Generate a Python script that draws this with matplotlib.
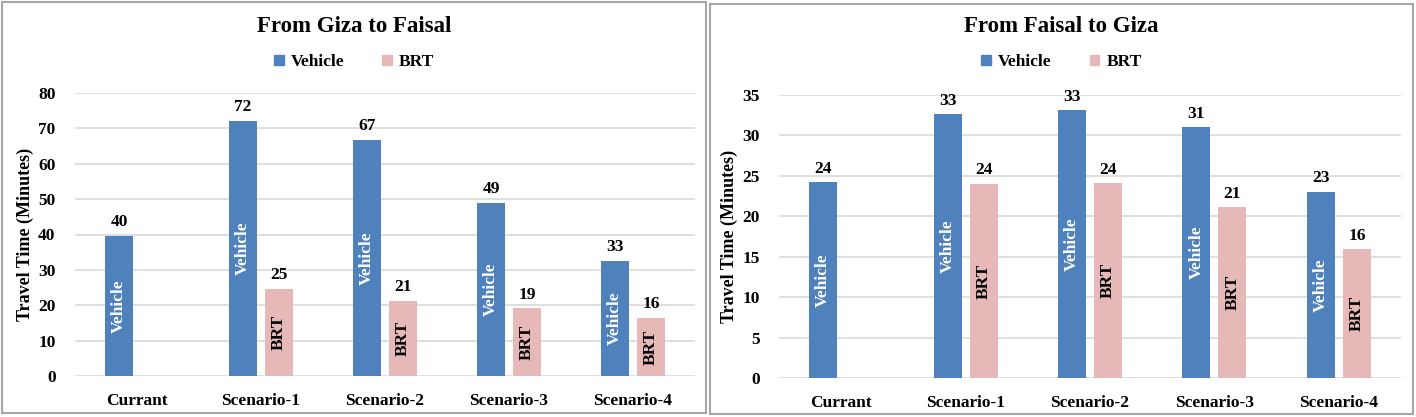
import numpy as np
import matplotlib.pyplot as plt
from matplotlib.patches import Patch, Rectangle

categories = ["Currant", "Scenario-1", "Scenario-2", "Scenario-3", "Scenario-4"]

# From Giza to Faisal
giza_vehicle = [39.6, 72.1, 66.8, 48.9, 32.6]
giza_brt = [np.nan, 24.7, 21.2, 19.1, 16.4]

# From Faisal to Giza
faisal_vehicle = [24.2, 32.6, 33.1, 31.0, 23.0]
faisal_brt = [np.nan, 24.0, 24.1, 21.1, 15.9]

blue = "#4F81BD"
pink = "#E6B9B8"
grid_c = "#D9D9D9"
font = "Liberation Serif"

plt.rcParams["font.family"] = font
plt.rcParams["font.weight"] = "bold"

W, H = 1416, 417
fig = plt.figure(figsize=(W / 100, H / 100), dpi=100)


def px_box(x0, y0, x1, y1):
    # pixel box (top-left origin) -> figure fraction [l, b, w, h]
    return [x0 / W, 1 - y1 / H, (x1 - x0) / W, (y1 - y0) / H]


def draw_panel(box, panel, title, vehicle, brt, ymax, ystep):
    # panel border
    l, b, w, h = px_box(*panel)
    fig.add_artist(Rectangle((l, b), w, h, transform=fig.transFigure,
                             fill=False, edgecolor="#A6A6A6", lw=1.5))
    cx = l + w / 2
    fig.text(cx, 1 - 27 / H, title, ha="center", va="center",
             fontsize=16.5, fontweight="bold")
    handles = [Patch(color=blue, label="Vehicle"), Patch(color=pink, label="BRT")]
    fig.legend(handles=handles, loc="center", bbox_to_anchor=(cx, 1 - 62 / H),
               ncol=2, frameon=False, handlelength=0.55, handleheight=0.55,
               handletextpad=0.4, columnspacing=2.2,
               prop={"family": font, "weight": "bold", "size": 12.5})

    ax = fig.add_axes(px_box(*box))
    x = np.arange(len(categories))
    off, bw = 0.145, 0.225
    ax.bar(x - off, vehicle, bw, color=blue, zorder=3)
    ax.bar(x + off, brt, bw, color=pink, zorder=3)

    for xi, v in zip(x, vehicle):
        ax.annotate(f"{round(v)}", (xi - off, v), xytext=(0, 4),
                    textcoords="offset points", ha="center", va="bottom",
                    fontsize=12.5, fontweight="bold")
        ax.text(xi - off, v / 2, "Vehicle", rotation=90, ha="center",
                va="center", color="white", fontsize=12.5, fontweight="bold",
                zorder=4)
    for xi, v in zip(x, brt):
        if np.isnan(v):
            continue
        ax.annotate(f"{round(v)}", (xi + off, v), xytext=(0, 4),
                    textcoords="offset points", ha="center", va="bottom",
                    fontsize=12.5, fontweight="bold")
        ax.text(xi + off, v / 2, "BRT", rotation=90, ha="center",
                va="center", color="black", fontsize=12.5, fontweight="bold",
                zorder=4)

    ax.set_xlim(-0.5, len(categories) - 0.5)
    ax.set_ylim(0, ymax)
    ax.set_yticks(np.arange(0, ymax + 1, ystep))
    ax.set_xticks(x)
    ax.set_xticklabels(categories)
    ax.tick_params(axis="both", length=0, labelsize=12.5)
    ax.tick_params(axis="x", pad=12)
    ax.tick_params(axis="y", pad=14)
    ax.yaxis.grid(True, color=grid_c, lw=1.2, zorder=0)
    for s in ax.spines.values():
        s.set_visible(False)
    ax.set_ylabel("Travel Time (Minutes)", fontsize=13, fontweight="bold",
                  labelpad=3)
    return ax


draw_panel((75, 93, 695, 376), (2, 2, 706, 413), "From Giza to Faisal",
           giza_vehicle, giza_brt, 80, 10)
draw_panel((779, 95, 1401, 378), (710, 4, 1413, 414), "From Faisal to Giza",
           faisal_vehicle, faisal_brt, 35, 5)

fig.savefig("out.png", dpi=100, facecolor="white")
